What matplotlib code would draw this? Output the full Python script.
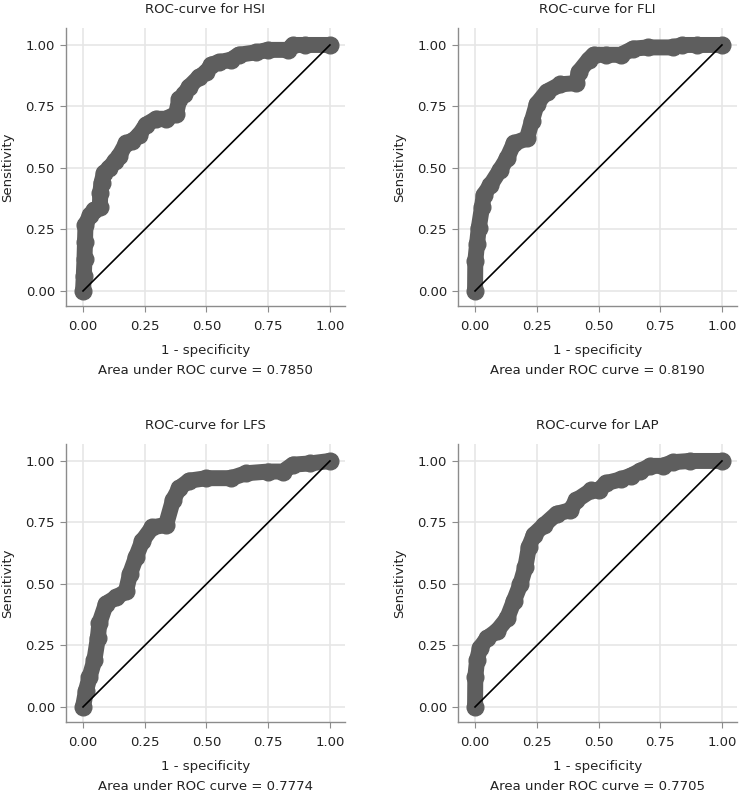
import matplotlib.pyplot as plt
import numpy as np

# ROC points (1 - specificity, sensitivity)
hsi_x = [0.0, 0.003, 0.006, 0.008, 0.01, 0.03, 0.045, 0.068, 0.07, 0.075, 0.085, 0.107, 0.13, 0.147,
         0.174, 0.2, 0.228, 0.255, 0.296, 0.336, 0.377, 0.39, 0.41, 0.43, 0.47, 0.5, 0.52, 0.55,
         0.6, 0.63, 0.7, 0.75, 0.83, 0.85, 0.9, 1.0]
hsi_y = [0.0, 0.06, 0.13, 0.2, 0.27, 0.31, 0.33, 0.34, 0.4, 0.44, 0.48, 0.5, 0.53, 0.55,
         0.6, 0.61, 0.635, 0.676, 0.70, 0.70, 0.72, 0.78, 0.8, 0.83, 0.87, 0.89, 0.92, 0.93,
         0.94, 0.96, 0.97, 0.98, 0.98, 1.0, 1.0, 1.0]

fli_x = [0.0, 0.001, 0.008, 0.015, 0.028, 0.035, 0.062, 0.1, 0.13, 0.157, 0.21, 0.23, 0.25, 0.29,
         0.346, 0.41, 0.42, 0.46, 0.48, 0.53, 0.59, 0.64, 0.7, 0.8, 0.84, 0.9, 1.0]
fli_y = [0.0, 0.12, 0.19, 0.256, 0.34, 0.39, 0.43, 0.49, 0.54, 0.6, 0.62, 0.69, 0.76, 0.81,
         0.84, 0.845, 0.89, 0.94, 0.96, 0.96, 0.96, 0.985, 0.99, 0.99, 1.0, 1.0, 1.0]

lfs_x = [0.0, 0.012, 0.026, 0.046, 0.06, 0.066, 0.093, 0.134, 0.174, 0.19, 0.215, 0.24, 0.28, 0.336,
         0.364, 0.39, 0.43, 0.5, 0.6, 0.66, 0.75, 0.81, 0.85, 0.92, 1.0]
lfs_y = [0.0, 0.066, 0.12, 0.19, 0.28, 0.34, 0.42, 0.445, 0.47, 0.54, 0.61, 0.675, 0.73, 0.74,
         0.84, 0.89, 0.92, 0.93, 0.93, 0.95, 0.957, 0.957, 0.985, 0.99, 1.0]

lap_x = [0.0, 0.001, 0.008, 0.02, 0.049, 0.09, 0.13, 0.157, 0.184, 0.204, 0.218, 0.238, 0.28, 0.33,
         0.386, 0.41, 0.47, 0.5, 0.53, 0.59, 0.63, 0.67, 0.71, 0.76, 0.8, 0.87, 1.0]
lap_y = [0.0, 0.12, 0.19, 0.24, 0.28, 0.31, 0.36, 0.43, 0.5, 0.57, 0.65, 0.70, 0.74, 0.785,
         0.8, 0.84, 0.88, 0.88, 0.91, 0.925, 0.94, 0.96, 0.98, 0.98, 0.995, 1.0, 1.0]

names = ['HSI', 'FLI', 'LFS', 'LAP']
aucs = ['0.7850', '0.8190', '0.7774', '0.7705']
curves = [(hsi_x, hsi_y), (fli_x, fli_y), (lfs_x, lfs_y), (lap_x, lap_y)]
ticks = [0.0, 0.25, 0.5, 0.75, 1.0]
tick_labels = ['0.00', '0.25', '0.50', '0.75', '1.00']

plt.rcParams['font.family'] = ['DejaVu Sans']
plt.rcParams['font.size'] = 9.5

fig = plt.figure(figsize=(7.49, 8.02), dpi=100)

# axes boxes in figure fractions (left, bottom, width, height)
positions = [(0.0881, 0.6185, 0.3725, 0.3466), (0.6115, 0.6185, 0.3725, 0.3466),
             (0.0881, 0.0998, 0.3725, 0.3466), (0.6115, 0.0998, 0.3725, 0.3466)]

spine_col = '#8c8c8c'
text_col = '#222222'
for pos, name, auc, (cx, cy) in zip(positions, names, aucs, curves):
    ax = fig.add_axes(pos)
    ax.plot(cx, cy, color='#5e5e5e', linewidth=11.5, solid_capstyle='round',
            solid_joinstyle='round', marker='o', markersize=12, zorder=3)
    ax.plot([0, 1], [0, 1], color='black', linewidth=1.2, zorder=4)
    ax.set_xlim(-0.069, 1.061)
    ax.set_ylim(-0.061, 1.069)
    ax.set_xticks(ticks)
    ax.set_xticklabels(tick_labels)
    ax.set_yticks(ticks)
    ax.set_yticklabels(tick_labels)
    ax.grid(True, color='#e6e6e6', linewidth=1.2, zorder=0)
    ax.set_axisbelow(True)
    for s in ['top', 'right']:
        ax.spines[s].set_visible(False)
    for s in ['left', 'bottom']:
        ax.spines[s].set_color(spine_col)
        ax.spines[s].set_linewidth(1.0)
    ax.tick_params(axis='both', direction='out', length=4, width=0.8, color=spine_col,
                   labelsize=9.5, labelcolor=text_col)
    ax.tick_params(axis='x', pad=6)
    ax.tick_params(axis='y', pad=4)
    ax.set_title('ROC-curve for ' + name, fontsize=9.5, pad=11, color=text_col)
    ax.set_xlabel('1 - specificity\nArea under ROC curve = ' + auc, fontsize=9.5,
                  linespacing=1.75, labelpad=8, color=text_col)
    ax.set_ylabel('Sensitivity', fontsize=9.5, labelpad=8, color=text_col)

fig.savefig('out.png', dpi=100)
